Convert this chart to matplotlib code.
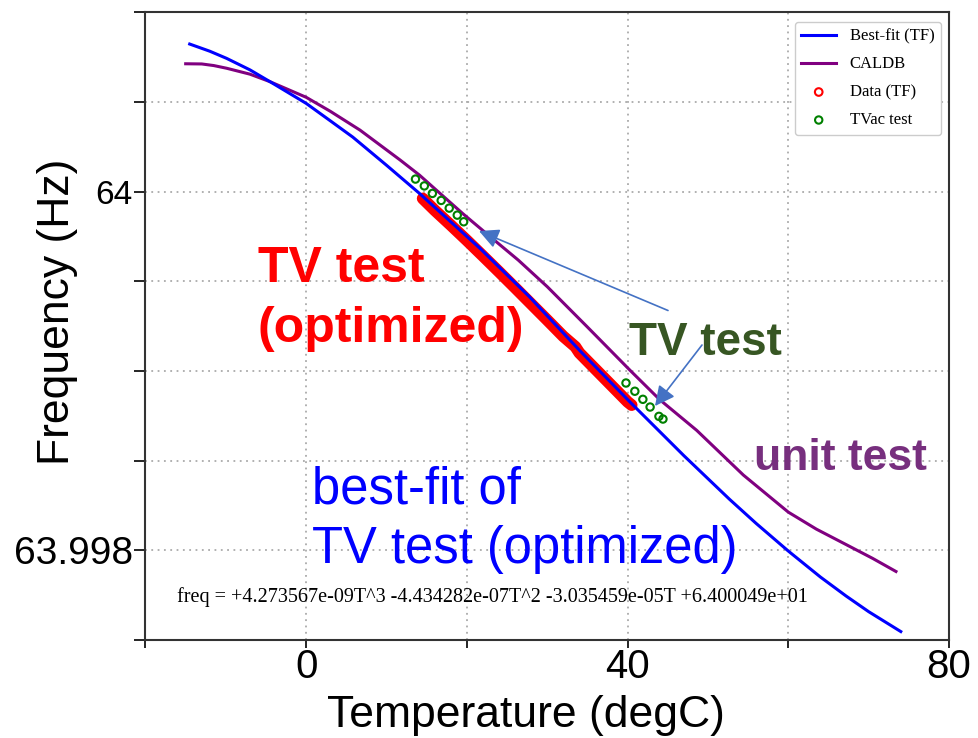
import numpy as np
import matplotlib
matplotlib.use("Agg")
import matplotlib.pyplot as plt

# values
fit_T = [-14.5, -12, -9.9, -7, -4.5, 0.0, 3, 5.8, 10, 14.1, 21.6, 27.8, 34.0, 40.3,
         47, 52.7, 56, 60.0, 64, 67.2, 70, 74.0]
fit_f = [64.000823, 64.000783, 64.000743, 64.000679, 64.000613, 64.000492, 64.000395,
         64.000304, 64.000147, 63.999990, 63.999685, 63.999413, 63.999116, 63.998827,
         63.998528, 63.998284, 63.998150, 63.997996, 63.997851, 63.997745, 63.997658,
         63.997547]

caldb_T = [-15.0, -13.0, -11.5, -9.9, -7, -4.5, 0.0, 3, 6.7, 11.7, 14.1, 19.5, 23,
           26.4, 30, 35, 40.3, 44, 48.6, 54.4, 60.0, 63.5, 67.2, 70.5, 73.4]
caldb_f = [64.000713, 64.000712, 64.000703, 64.000688, 64.000655, 64.000613, 64.000526,
           64.000448, 64.000343, 64.000176, 64.000092, 63.999877, 63.999745, 63.999618,
           63.999470, 63.999245, 63.999004, 63.998840, 63.998669, 63.998420, 63.998213,
           63.998118, 63.998032, 63.997955, 63.997882]

data_T = [14.5, 16, 18, 20, 22, 24, 26, 28, 30, 32, 33.5, 34, 36, 38, 40, 40.5]
data_f = [63.999962, 63.999896, 63.999813, 63.999728, 63.999641, 63.999553, 63.999464,
          63.999374, 63.999284, 63.999193, 63.999135, 63.999101, 63.999010, 63.998919,
          63.998828, 63.998810]

tvac_T = [13.6, 14.7, 15.7, 16.8, 17.8, 18.8, 19.6, 39.8, 40.9, 41.9, 42.8, 43.9, 44.4]
tvac_f = [64.000070, 64.000032, 63.999990, 63.999951, 63.999908, 63.999869, 63.999832,
          63.998933, 63.998887, 63.998842, 63.998799, 63.998747, 63.998732]

x_ticks = [-20, 0, 20, 40, 60, 80]
x_labels = ['', '0', '', '40', '', '80']
y_ticks = [63.9975, 63.998, 63.9985, 63.999, 63.9995, 64.0, 64.0005, 64.001]
y_labels = ['', '63.998', '', '', '', '64', '', '']

W, H = 979, 738
fig = plt.figure(figsize=(W / 100, H / 100), dpi=100)
ax = fig.add_axes([145.5 / W, 1 - 640 / H, (949 - 145.5) / W, (640 - 12.3) / H])

def fx(px):
    return px / W

def fy(py):
    return 1 - py / H

sans = 'Liberation Sans'
serif = 'Liberation Serif'

ax.plot(data_T, data_f, color='red', lw=8.5, solid_capstyle='round', zorder=2)
ax.plot(fit_T, fit_f, color='#0000ff', lw=2.2, label='Best-fit (TF)', zorder=4)
ax.plot(caldb_T, caldb_f, color='#800080', lw=2.2, label='CALDB', zorder=3)
ax.scatter(data_T, data_f, s=30, facecolors='none', edgecolors='red', linewidths=1.5,
           label='Data (TF)', zorder=2)
ax.scatter(tvac_T, tvac_f, s=28, facecolors='none', edgecolors='green', linewidths=1.5,
           label='TVac test', zorder=5)

ax.set_xlim(-20, 80)
ax.set_ylim(63.9975, 64.001)
ax.set_xticks(x_ticks)
ax.set_xticklabels(x_labels, fontsize=29, family=sans)
ax.set_yticks(y_ticks)
ax.set_yticklabels(y_labels, fontsize=28, family=sans)
ax.get_yticklabels()[5].set_fontsize(24)
ax.tick_params(axis='x', direction='out', length=6, width=1.2, pad=0)
ax.tick_params(axis='y', direction='out', length=8, width=1.2, pad=1)
ax.grid(True, color='#aaaaaa', linestyle=(0, (1, 2.5)), lw=1.3)
for s in ax.spines.values():
    s.set_color('#333333')
    s.set_linewidth(1.5)

leg = ax.legend(loc='upper right', bbox_to_anchor=(0.990, 0.985), borderaxespad=0,
                prop={'family': serif, 'size': 12}, handlelength=2.1, labelspacing=0.72,
                fancybox=True, framealpha=1, edgecolor='#cccccc')

fig.text(fx(58), fy(312), 'Frequency (Hz)', rotation=90, ha='center', va='center',
         fontsize=32, family=sans)
fig.text(fx(526), fy(715), 'Temperature (degC)', ha='center', va='center',
         fontsize=32, family=sans)

red_kw = dict(ha='left', va='baseline', color='#ff0000', fontsize=36, fontweight='bold', family=sans)
fig.text(fx(258), fy(282), 'TV test', **red_kw)
fig.text(fx(258), fy(342), '(optimized)', **red_kw)
fig.text(fx(629), fy(355), 'TV test', ha='left', va='baseline', color='#375623',
         fontsize=33, fontweight='bold', family=sans)
fig.text(fx(754), fy(470), 'unit test', ha='left', va='baseline', color='#772f7e',
         fontsize=32, fontweight='bold', family=sans)
blue_kw = dict(ha='left', va='baseline', color='#0000ff', fontsize=36.5, family=sans)
fig.text(fx(312), fy(503), 'best-fit of', **blue_kw)
fig.text(fx(312), fy(563), 'TV test (optimized)', **blue_kw)
fig.text(fx(177), fy(602), 'freq = +4.273567e-09T^3 -4.434282e-07T^2 -3.035459e-05T +6.400049e+01',
         ha='left', va='baseline', fontsize=14.5, family=serif)

arrow = dict(arrowstyle='-|>', color='#4472c4', lw=1.2, mutation_scale=30, shrinkA=0, shrinkB=0)
ax.annotate('', xy=(fx(479), fy(231)), xytext=(fx(668), fy(310.5)),
            xycoords='figure fraction', textcoords='figure fraction', arrowprops=arrow)
ax.annotate('', xy=(fx(655), fy(406)), xytext=(fx(702), fy(345)),
            xycoords='figure fraction', textcoords='figure fraction', arrowprops=arrow)

fig.savefig('out.png', dpi=100)
